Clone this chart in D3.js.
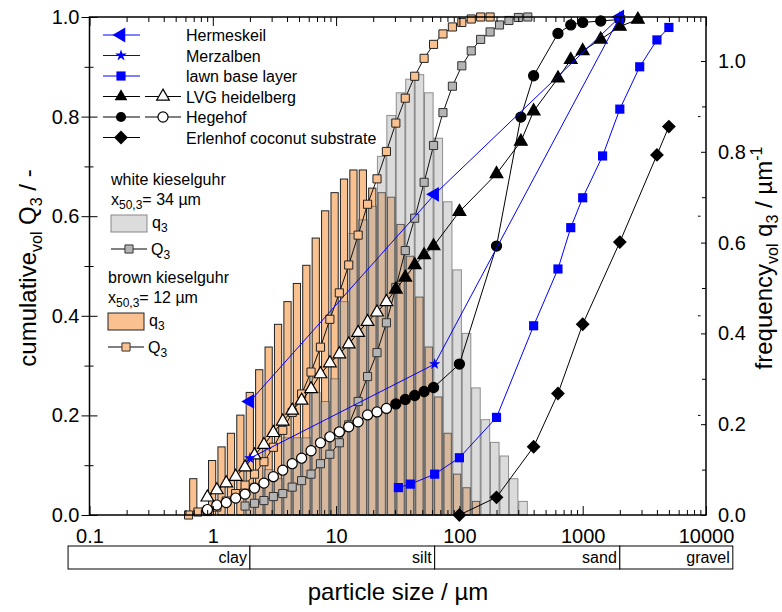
<!DOCTYPE html>
<html>
<head>
<meta charset="utf-8">
<script src="https://cdn.jsdelivr.net/npm/d3@7"></script>
<style>
  body { margin: 0; background: #fff; }
  text { font-family: "Liberation Sans", Arial, sans-serif; }
</style>
</head>
<body>
<div id="chart"></div>
<script>
// ─── Data ────────────────────────────────────────────────────
// laser diffraction bin edges (µm)
const binEdges = [0.636, 0.758, 0.904, 1.078, 1.285, 1.533, 1.827, 2.179, 2.599, 3.098,
  3.694, 4.405, 5.252, 6.263, 7.468, 8.905, 10.62, 12.66, 15.09, 18.00,
  21.47, 25.59, 30.52, 36.39, 43.40, 51.75, 61.70, 73.57, 87.74, 104.6,
  124.8, 148.7, 177.4, 211.4, 252.2, 300.6, 358.5];

// q3 per bin (right axis)
const brownQ3bars = [0.08, 0, 0.12, 0.15, 0.18, 0.22, 0.27, 0.32, 0.37, 0.42,
  0.47, 0.51, 0.55, 0.61, 0.67, 0.71, 0.74, 0.76, 0.76, 0.72,
  0.71, 0.70, 0.64, 0.57, 0.48, 0.37, 0.26, 0.18, 0.09, 0.06,
  0.03, 0, 0, 0, 0, 0];
const whiteQ3bars = [0, 0, 0, 0, 0, 0, 0.07, 0.07, 0.10, 0.08,
  0.17, 0.17, 0.17, 0.27, 0.25, 0.30, 0.47, 0.62, 0.65, 0.68,
  0.79, 0.88, 0.93, 0.96, 0.97, 0.93, 0.83, 0.69, 0.54, 0.40,
  0.28, 0.21, 0.16, 0.13, 0.08, 0.03];

// Q3 at bin edges (brown: edges 0..32, white: edges 6..36)
const brownQ3cum = [0, 0.006, 0.007, 0.016, 0.028, 0.043, 0.060, 0.082, 0.107, 0.136,
  0.170, 0.206, 0.243, 0.287, 0.337, 0.393, 0.446, 0.502, 0.562, 0.624,
  0.675, 0.730, 0.787, 0.837, 0.881, 0.917, 0.945, 0.966, 0.980, 0.989,
  0.996, 1.0, 1.0];
const whiteQ3cum = [0.018, 0.0235, 0.029, 0.037, 0.043, 0.056, 0.069, 0.082, 0.103, 0.122,
  0.145, 0.181, 0.228, 0.278, 0.326, 0.386, 0.457, 0.531, 0.596, 0.668,
  0.742, 0.808, 0.861, 0.902, 0.932, 0.955, 0.970, 0.984, 0.993, 0.999, 1.0];

// soils: laser part (edges 2..26, first 20 open symbols) + sieve part
const lvgLaserQ = [0.0355, 0.050, 0.064, 0.077, 0.096, 0.120, 0.141, 0.165, 0.188, 0.210,
  0.230, 0.253, 0.283, 0.305, 0.323, 0.343, 0.366, 0.388, 0.407, 0.428,
  0.453, 0.477, 0.502, 0.522, 0.540];
const lvgSieveX = [100, 200, 315, 400, 630, 800, 1000, 1400, 2000, 2800];
const lvgSieveQ = [0.609, 0.685, 0.750, 0.811, 0.877, 0.914, 0.932, 0.955, 0.981, 0.995];

const hegLaserQ = [0.011, 0.020, 0.025, 0.034, 0.042, 0.054, 0.064, 0.077, 0.090, 0.103,
  0.114, 0.129, 0.145, 0.157, 0.167, 0.177, 0.187, 0.201, 0.207, 0.214,
  0.223, 0.232, 0.240, 0.248, 0.256];
const hegSieveX = [100, 200, 315, 400, 630, 800, 1000, 1400, 2000];
const hegSieveQ = [0.303, 0.540, 0.799, 0.882, 0.967, 0.984, 0.989, 0.992, 0.995];
const openCount = 20;

const lawnX = [32, 40, 63, 100, 200, 400, 630, 800, 1000, 1450, 2000, 2900, 4000, 5000];
const lawnQ = [0.055, 0.062, 0.082, 0.115, 0.196, 0.380, 0.494, 0.577, 0.637, 0.721, 0.815, 0.900, 0.954, 0.979];

const erlenX = [100, 200, 400, 630, 1000, 2000, 4000, 5000];
const erlenQ = [0.0, 0.0355, 0.137, 0.244, 0.383, 0.548, 0.723, 0.780];

const soilClassX = [2, 63, 2000];
const hermeskeilQ = [0.228, 0.644, 1.0];
const merzalbenQ = [0.114, 0.303, 1.0];

// axes / soil classes
const xMajor = [0.1, 1, 10, 100, 1000, 10000];
const yMajor = [0, 0.2, 0.4, 0.6, 0.8, 1.0];
const yMinor = [0.1, 0.3, 0.5, 0.7, 0.9];
const qMajor = [0, 0.2, 0.4, 0.6, 0.8, 1.0];
const qMinor = [0.1, 0.3, 0.5, 0.7, 0.9];
const soilNames = ["clay", "silt", "sand", "gravel"];
const soilBounds = [0.067, 2, 63, 2000, 16500];

// ─── Setup ───────────────────────────────────────────────────
const W = 782, H = 612;
const m = { left: 89.5, right: 706, top: 17, bottom: 515 };
const FONT = '"Liberation Sans", Arial, sans-serif';

const svg = d3.select("#chart").append("svg")
  .attr("width", W).attr("height", H)
  .attr("viewBox", `0 0 ${W} ${H}`);

const x = d3.scaleLog().domain([0.1, 10000]).range([m.left, m.right]);
const yQ = d3.scaleLinear().domain([0, 1]).range([m.bottom, m.top]);
const yq = d3.scaleLinear().domain([0, 1]).range([m.bottom, 61]);

const ORANGE = "#f9c18f";
const BLUE = "#0000ff";

// symbols
function sym(type) {
  switch (type) {
    case "square":  return d3.symbol(d3.symbolSquare, 66)();
    case "bsquare": return d3.symbol(d3.symbolSquare, 84)();
    case "diamond": return d3.symbol(d3.symbolSquare, 96)();
    case "tri":     return d3.symbol(d3.symbolTriangle, 70)();
    case "triL":    return d3.symbol(d3.symbolTriangle, 95)();
    case "star":    return d3.symbol(d3.symbolStar, 42)();
    case "circle":  return d3.symbol(d3.symbolCircle, 80)();
  }
}
const rotOf = { diamond: 45, triL: -90 };

function marker(g, type, cx, cy, fill, stroke, sw) {
  g.append("path")
    .attr("d", sym(type))
    .attr("transform", `translate(${cx},${cy}) rotate(${rotOf[type] || 0})`)
    .attr("fill", fill)
    .attr("stroke", stroke || "none")
    .attr("stroke-width", sw || 1);
}

// ─── Bars ────────────────────────────────────────────────────
const bins = d3.range(binEdges.length - 1);

svg.append("g").selectAll("rect")
  .data(bins.filter(i => brownQ3bars[i] > 0))
  .join("rect")
  .attr("x", i => x(binEdges[i]) + 1.1)
  .attr("width", i => x(binEdges[i + 1]) - x(binEdges[i]) - 2.2)
  .attr("y", i => yq(brownQ3bars[i]))
  .attr("height", i => yq(0) - yq(brownQ3bars[i]))
  .attr("fill", ORANGE)
  .attr("stroke", "#222")
  .attr("stroke-width", 1);

svg.append("g").selectAll("rect")
  .data(bins.filter(i => whiteQ3bars[i] > 0))
  .join("rect")
  .attr("x", i => x(binEdges[i]) + 0.4)
  .attr("width", i => x(binEdges[i + 1]) - x(binEdges[i]) - 0.8)
  .attr("y", i => yq(whiteQ3bars[i]))
  .attr("height", i => yq(0) - yq(whiteQ3bars[i]))
  .attr("fill", "#aeaeae")
  .attr("fill-opacity", 0.44)
  .attr("stroke", "#333")
  .attr("stroke-opacity", 0.5)
  .attr("stroke-width", 1);

// ─── Series ──────────────────────────────────────────────────
const line = d3.line().x(d => x(d[0])).y(d => yQ(d[1]));
const plot = svg.append("g");

function series(xs, qs, o) {
  const pts = xs.map((v, i) => [v, qs[i]]);
  plot.append("path")
    .attr("d", line(pts))
    .attr("fill", "none")
    .attr("stroke", o.line)
    .attr("stroke-width", 1);
  const g = plot.append("g");
  pts.forEach((d, i) => {
    const open = o.open && i < o.open;
    marker(g, o.type, x(d[0]), yQ(d[1]),
      open ? "#fff" : o.fill, o.stroke, o.sw);
  });
}

series(binEdges.slice(6), whiteQ3cum,
  { type: "square", line: "#111", fill: "#b4b4b4", stroke: "#333", sw: 1 });
series(binEdges.slice(0, brownQ3cum.length), brownQ3cum,
  { type: "square", line: "#111", fill: ORANGE, stroke: "#222", sw: 1 });

const laserX = binEdges.slice(2, 27);
series(laserX.concat(hegSieveX), hegLaserQ.concat(hegSieveQ),
  { type: "circle", line: "#000", fill: "#000", stroke: "#000", sw: 1.2, open: openCount });
series(laserX.concat(lvgSieveX), lvgLaserQ.concat(lvgSieveQ),
  { type: "tri", line: "#000", fill: "#000", stroke: "#000", sw: 1.2, open: openCount });
series(erlenX, erlenQ, { type: "diamond", line: "#000", fill: "#000" });
series(lawnX, lawnQ, { type: "bsquare", line: BLUE, fill: BLUE });
series(soilClassX, merzalbenQ, { type: "star", line: BLUE, fill: BLUE });
series(soilClassX, hermeskeilQ, { type: "triL", line: BLUE, fill: BLUE });

// ─── Axes ────────────────────────────────────────────────────
const xMinor = x.ticks().filter(t => !xMajor.some(v => Math.abs(v - t) / v < 1e-6));

function styleAxis(g) {
  g.select(".domain").remove();
  g.attr("font-family", FONT).attr("font-size", 20);
  g.selectAll("text").attr("fill", "#000");
  g.selectAll("line").attr("stroke", "#000");
}

svg.append("g").attr("transform", `translate(0,${m.bottom})`)
  .call(d3.axisBottom(x).tickValues(xMajor).tickSize(-9).tickPadding(14)
    .tickFormat(d3.format("~g")))
  .call(styleAxis);
svg.append("g").attr("transform", `translate(0,${m.bottom})`)
  .call(d3.axisBottom(x).tickValues(xMinor).tickSize(-5).tickFormat(""))
  .call(styleAxis);
svg.append("g").attr("transform", `translate(0,${m.top})`)
  .call(d3.axisTop(x).tickValues(xMajor).tickSize(-9).tickFormat(""))
  .call(styleAxis);
svg.append("g").attr("transform", `translate(0,${m.top})`)
  .call(d3.axisTop(x).tickValues(xMinor).tickSize(-5).tickFormat(""))
  .call(styleAxis);

svg.append("g").attr("transform", `translate(${m.left},0)`)
  .call(d3.axisLeft(yQ).tickValues(yMajor).tickSize(8).tickPadding(2)
    .tickFormat(d3.format(".1f")))
  .call(styleAxis);
svg.append("g").attr("transform", `translate(${m.left},0)`)
  .call(d3.axisLeft(yQ).tickValues(yMajor).tickSize(-8).tickFormat(""))
  .call(styleAxis);
svg.append("g").attr("transform", `translate(${m.left},0)`)
  .call(d3.axisLeft(yQ).tickValues(yMinor).tickSize(5).tickFormat(""))
  .call(styleAxis);
svg.append("g").attr("transform", `translate(${m.left},0)`)
  .call(d3.axisLeft(yQ).tickValues(yMinor).tickSize(-4).tickFormat(""))
  .call(styleAxis);

svg.append("g").attr("transform", `translate(${m.right},0)`)
  .call(d3.axisRight(yq).tickValues(qMajor).tickSize(-5).tickPadding(12)
    .tickFormat(d3.format(".1f")))
  .call(styleAxis);
svg.append("g").attr("transform", `translate(${m.right},0)`)
  .call(d3.axisRight(yq).tickValues(qMinor).tickSize(-4).tickFormat(""))
  .call(styleAxis);
// small mirrored marks of the left scale
svg.append("g").selectAll("line")
  .data(yMajor.slice(1, 5))
  .join("line")
  .attr("x1", m.right - 8).attr("x2", m.right - 5.5)
  .attr("y1", d => yQ(d)).attr("y2", d => yQ(d))
  .attr("stroke", "#000");

// frame
svg.append("rect")
  .attr("x", m.left).attr("y", m.top)
  .attr("width", m.right - m.left).attr("height", m.bottom - m.top)
  .attr("fill", "none").attr("stroke", "#000").attr("stroke-width", 1.5);

// ─── Soil class bar ──────────────────────────────────────────
const soil = svg.append("g");
soilNames.forEach((name, i) => {
  const x0 = x(soilBounds[i]), x1 = x(soilBounds[i + 1]);
  soil.append("rect")
    .attr("x", x0).attr("y", 546)
    .attr("width", x1 - x0).attr("height", 23)
    .attr("fill", "#fff").attr("stroke", "#000").attr("stroke-width", 1);
  soil.append("text")
    .attr("x", x1 - 3).attr("y", 563)
    .attr("text-anchor", "end")
    .attr("font-size", 16)
    .text(name);
});

// ─── Axis titles ─────────────────────────────────────────────
svg.append("text")
  .attr("x", 398).attr("y", 600)
  .attr("text-anchor", "middle")
  .attr("font-size", 24)
  .text("particle size / µm");

function subText(t, parts, subSize) {
  parts.forEach(p => {
    const s = t.append("tspan").text(p.t);
    if (p.sub) s.attr("font-size", subSize).attr("dy", 6);
    else if (p.sup) s.attr("font-size", subSize).attr("dy", -10);
    if (p.back) s.attr("dy", p.back);
  });
}

const yTitle = svg.append("text")
  .attr("transform", "translate(36,268) rotate(-90)")
  .attr("text-anchor", "middle")
  .attr("font-size", 24);
subText(yTitle, [
  { t: "cumulative" }, { t: "vol", sub: true }, { t: " Q", back: -6 },
  { t: "3", sub: true }, { t: " / -", back: -6 }
], 16);

const qTitle = svg.append("text")
  .attr("transform", "translate(772,258) rotate(-90)")
  .attr("text-anchor", "middle")
  .attr("font-size", 24);
subText(qTitle, [
  { t: "frequency" }, { t: "vol", sub: true }, { t: " q", back: -6 },
  { t: "3", sub: true }, { t: " / µm", back: -6 }, { t: "-1", sup: true }
], 16);

// ─── Legend (samples) ────────────────────────────────────────
const leg = svg.append("g").attr("font-size", 16);
const legRows = [
  { name: "Hermeskeil", type: "triL", color: BLUE },
  { name: "Merzalben", type: "star", color: BLUE },
  { name: "lawn base layer", type: "bsquare", color: BLUE },
  { name: "LVG heidelberg", type: "tri", color: "#000", open: true },
  { name: "Hegehof", type: "circle", color: "#000", open: true },
  { name: "Erlenhof coconut substrate", type: "diamond", color: "#000" }
];
legRows.forEach((r, i) => {
  const cy = 35 + i * 20.5;
  leg.append("line").attr("x1", 103).attr("x2", 140).attr("y1", cy).attr("y2", cy)
    .attr("stroke", r.color).attr("stroke-width", 1);
  marker(leg, r.type, 121, cy, r.color);
  if (r.open) {
    leg.append("line").attr("x1", 145).attr("x2", 181).attr("y1", cy).attr("y2", cy)
      .attr("stroke", r.color).attr("stroke-width", 1);
    marker(leg, r.type, 163, cy, "#fff", "#000", 1.2);
  }
  leg.append("text").attr("x", 186).attr("y", cy + 6).text(r.name);
});

// ─── Legend (kieselguhr) ─────────────────────────────────────
const kg = svg.append("g").attr("font-size", 16);
function kieselBlock(x0, y0, title, x50, fill, boxStroke, sqFill) {
  kg.append("text").attr("x", x0).attr("y", y0).text(title);
  const t = kg.append("text").attr("x", x0).attr("y", y0 + 20);
  t.append("tspan").text("x");
  t.append("tspan").attr("font-size", 12).attr("dy", 4).text("50,3");
  t.append("tspan").attr("dy", -4).text(`= ${x50} µm`);
  kg.append("rect").attr("x", x0).attr("y", y0 + 30).attr("width", 36).attr("height", 17)
    .attr("fill", fill).attr("stroke", boxStroke).attr("stroke-width", 1);
  const q = kg.append("text").attr("x", x0 + 41).attr("y", y0 + 43);
  q.append("tspan").text("q");
  q.append("tspan").attr("font-size", 12).attr("dy", 4).text("3");
  const cy = y0 + 64;
  kg.append("line").attr("x1", x0).attr("x2", x0 + 36).attr("y1", cy).attr("y2", cy)
    .attr("stroke", "#000").attr("stroke-width", 1);
  marker(kg, "square", x0 + 18, cy, sqFill, "#333", 1);
  const Q = kg.append("text").attr("x", x0 + 40).attr("y", cy + 6);
  Q.append("tspan").text("Q");
  Q.append("tspan").attr("font-size", 12).attr("dy", 4).text("3");
}
kieselBlock(111, 185, "white kieselguhr", 34, "#dcdcdc", "#888", "#b4b4b4");
kieselBlock(108, 283, "brown kieselguhr", 12, ORANGE, "#222", ORANGE);
</script>
</body>
</html>
